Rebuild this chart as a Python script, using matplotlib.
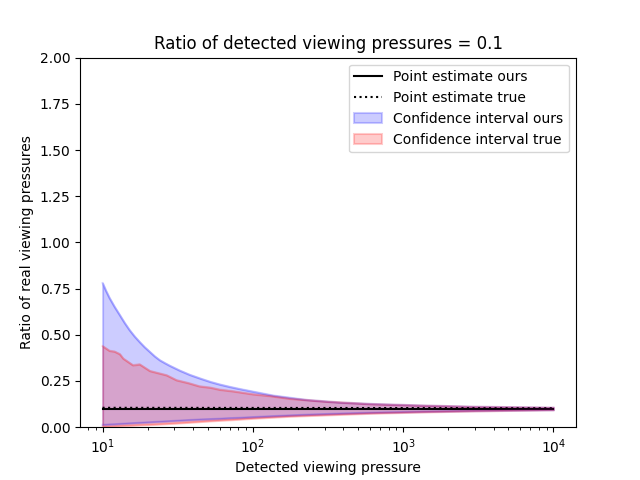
import matplotlib
matplotlib.use("Agg")
import matplotlib.pyplot as plt

# Detected viewing pressure (x) and point estimates
x_points = [10, 10000]
est_ours = [0.1, 0.1]
est_true = [0.105, 0.103]

# Confidence interval "ours" (smooth)
x_ours = [10, 10.5, 11.1, 12, 13, 14, 15.1, 16.3, 17.6, 19, 20.6, 22.2, 24, 26,
          28, 32.6, 38, 45, 52, 60, 70, 82, 96, 136, 228, 380, 631, 1300, 3000,
          10000]
ours_hi = [0.78, 0.74, 0.70, 0.652, 0.607, 0.565, 0.526, 0.492, 0.462, 0.434,
           0.408, 0.384, 0.363, 0.347, 0.333, 0.307, 0.284, 0.263, 0.246, 0.232,
           0.219, 0.207, 0.196, 0.172, 0.148, 0.134, 0.126, 0.118, 0.111, 0.106]
ours_lo = [0.013, 0.0135, 0.015, 0.016, 0.018, 0.0195, 0.021, 0.0225, 0.024,
           0.0255, 0.027, 0.0285, 0.030, 0.0315, 0.033, 0.036, 0.039, 0.042,
           0.044, 0.046, 0.049, 0.051, 0.054, 0.060, 0.068, 0.074, 0.079, 0.084,
           0.089, 0.094]

# Confidence interval "true" (jagged)
x_true = [10, 11.1, 12, 13, 13.7, 15.9, 17.6, 20.6, 23, 26.6, 31, 37, 44, 52,
          60, 74, 100, 129, 176, 300, 600, 1300, 3000, 10000]
true_hi = [0.439, 0.414, 0.41, 0.396, 0.372, 0.336, 0.341, 0.305, 0.295, 0.282,
           0.255, 0.240, 0.222, 0.215, 0.204, 0.195, 0.179, 0.170, 0.155, 0.140,
           0.126, 0.118, 0.111, 0.106]
true_lo = [0.003, 0.004, 0.005, 0.007, 0.008, 0.010, 0.012, 0.014, 0.016, 0.019,
           0.022, 0.026, 0.030, 0.034, 0.037, 0.041, 0.048, 0.053, 0.059, 0.066,
           0.075, 0.082, 0.088, 0.094]

fig, ax = plt.subplots(figsize=(6.4, 4.8), dpi=100)

ax.plot(x_points, est_ours, color='black', label='Point estimate ours')
ax.plot(x_points, est_true, color='black', linestyle=':', label='Point estimate true')
ax.fill_between(x_ours, ours_lo, ours_hi, color='blue', alpha=0.2,
                linewidth=1.5, label='Confidence interval ours')
ax.fill_between(x_true, true_lo, true_hi, color='red', alpha=0.2,
                linewidth=1.5, label='Confidence interval true')

# slightly darker band edges, as in the original
for xs, lo, hi, c in [(x_ours, ours_lo, ours_hi, 'blue'), (x_true, true_lo, true_hi, 'red')]:
    ax.plot(xs, hi, color=c, alpha=0.15, linewidth=1.5)
    ax.plot(xs, lo, color=c, alpha=0.15, linewidth=1.5)

ax.set_xscale('log')
ax.set_ylim(0, 2)
ax.set_yticks([0, 0.25, 0.5, 0.75, 1.0, 1.25, 1.5, 1.75, 2.0])
ax.set_xlabel('Detected viewing pressure')
ax.set_ylabel('Ratio of real viewing pressures')
ax.set_title('Ratio of detected viewing pressures = 0.1')
ax.legend(loc='upper right')

plt.savefig('out.png')
